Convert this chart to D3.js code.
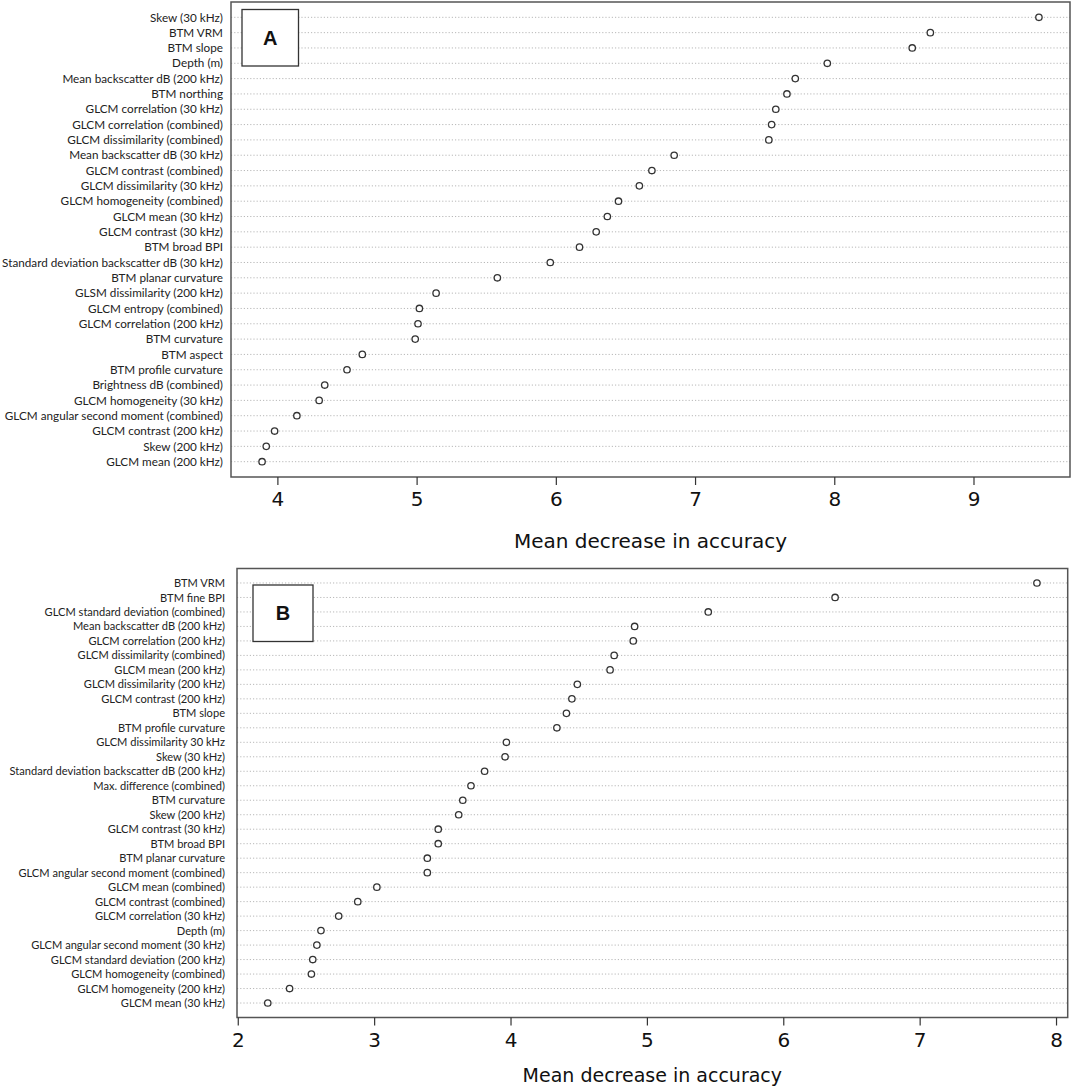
<!DOCTYPE html>
<html>
<head>
<meta charset="utf-8">
<script src="https://cdn.jsdelivr.net/npm/d3@7"></script>
<style>
  body { margin: 0; background: #fff; }
</style>
</head>
<body>
<div id="fig"></div>
<script>
// values (top row first)
const labelsA = ["Skew (30 kHz)", "BTM VRM", "BTM slope", "Depth (m)", "Mean backscatter dB (200 kHz)",
  "BTM northing", "GLCM correlation (30 kHz)", "GLCM correlation (combined)", "GLCM dissimilarity (combined)",
  "Mean backscatter dB (30 kHz)", "GLCM contrast (combined)", "GLCM dissimilarity (30 kHz)",
  "GLCM homogeneity (combined)", "GLCM mean (30 kHz)", "GLCM contrast (30 kHz)", "BTM broad BPI",
  "Standard deviation backscatter dB (30 kHz)", "BTM planar curvature", "GLSM dissimilarity (200 kHz)",
  "GLCM entropy (combined)", "GLCM correlation (200 kHz)", "BTM curvature", "BTM aspect",
  "BTM profile curvature", "Brightness dB (combined)", "GLCM homogeneity (30 kHz)",
  "GLCM angular second moment (combined)", "GLCM contrast (200 kHz)", "Skew (200 kHz)", "GLCM mean (200 kHz)"]
const valuesA = [9.47, 8.69, 8.56, 7.95, 7.72, 7.66, 7.58, 7.55, 7.53, 6.85, 6.69, 6.60, 6.45, 6.37, 6.29,
  6.17, 5.96, 5.58, 5.14, 5.02, 5.01, 4.99, 4.61, 4.50, 4.34, 4.30, 4.14, 3.98, 3.92, 3.89]
const ticksA = [4, 5, 6, 7, 8, 9]

const labelsB = ["BTM VRM", "BTM fine BPI", "GLCM standard deviation (combined)", "Mean backscatter dB (200 kHz)",
  "GLCM correlation (200 kHz)", "GLCM dissimilarity (combined)", "GLCM mean (200 kHz)",
  "GLCM dissimilarity (200 kHz)", "GLCM contrast (200 kHz)", "BTM slope", "BTM profile curvature",
  "GLCM dissimilarity 30 kHz", "Skew (30 kHz)", "Standard deviation backscatter dB (200 kHz)",
  "Max. difference (combined)", "BTM curvature", "Skew (200 kHz)", "GLCM contrast (30 kHz)", "BTM broad BPI",
  "BTM planar curvature", "GLCM angular second moment (combined)", "GLCM mean (combined)",
  "GLCM contrast (combined)", "GLCM correlation (30 kHz)", "Depth (m)", "GLCM angular second moment (30 kHz)",
  "GLCM standard deviation (200 kHz)", "GLCM homogeneity (combined)", "GLCM homogeneity (200 kHz)",
  "GLCM mean (30 kHz)"]
const valuesB = [7.86, 6.38, 5.45, 4.91, 4.90, 4.76, 4.73, 4.49, 4.45, 4.41, 4.34, 3.97, 3.96, 3.81, 3.71,
  3.65, 3.62, 3.47, 3.47, 3.39, 3.39, 3.02, 2.88, 2.74, 2.61, 2.58, 2.55, 2.54, 2.38, 2.22]
const ticksB = [2, 3, 4, 5, 6, 7, 8]

const xTitle = "Mean decrease in accuracy"

class DotPanel {

  constructor(svg, labels, values, ticks, opts) {
    this.svg = svg
    this.labels = labels
    this.values = values
    this.ticks = ticks
    this.opts = opts
    this.g = svg.append("g")
  }

  init() {
    this.setScales()
    this.drawGrid()
    this.drawLabels()
    this.drawAxis()
    this.drawDots()
    this.drawLetter()
  }

  setScales() {
    const o = this.opts
    // R dotchart pads the range by 4% on each side
    const lo = d3.min(this.values), hi = d3.max(this.values)
    const pad = (hi - lo) * 0.04
    this.x = d3.scaleLinear()
      .domain([lo - pad, hi + pad])
      .range([o.left, o.right])
    this.y = d3.scaleLinear()
      .domain([0, this.labels.length + 1])
      .range([o.top, o.bottom])
  }

  drawGrid() {
    const o = this.opts
    this.g.append("g")
      .selectAll("line")
      .data(this.labels)
      .join("line")
      .attr("x1", o.left)
      .attr("x2", o.right)
      .attr("y1", (d, i) => this.y(i + 1))
      .attr("y2", (d, i) => this.y(i + 1))
      .attr("stroke", "#b8b8b8")
      .attr("stroke-width", 1)
      .attr("stroke-dasharray", "1.2,2");

    this.g.append("rect")
      .attr("x", o.left)
      .attr("y", o.top)
      .attr("width", o.right - o.left)
      .attr("height", o.bottom - o.top)
      .attr("fill", "none")
      .attr("stroke", "#555")
      .attr("stroke-width", 1.5);
  }

  drawLabels() {
    const o = this.opts
    const lab = this.g.append("g")
      .selectAll("text")
      .data(this.labels)
      .join("text")
      .attr("text-anchor", "end")
      .attr("dy", "0.35em")
      .style("font-family", "Lato, 'Open Sans', sans-serif")
      .style("font-size", o.labelSize + "px")
      .style("fill", "#222")
      .text(d => d);

    // squeeze labels to the width of the narrow font in the original
    let widest = 0
    lab.each(function() { widest = Math.max(widest, this.getComputedTextLength()) })
    const sx = Math.min(1, o.labelWidth / widest)
    lab.attr("transform", (d, i) => `translate(${o.labelRight},${this.y(i + 1)}) scale(${sx},1)`)
  }

  drawAxis() {
    const o = this.opts
    const axis = this.g.append("g")
      .attr("transform", `translate(0,${o.bottom})`)
      .call(d3.axisBottom(this.x).tickValues(this.ticks).tickSize(8).tickPadding(7).tickFormat(d3.format("d")))
    axis.select(".domain").remove()
    axis.selectAll(".tick line").attr("stroke", "#333").attr("stroke-width", 1.2)
    axis.selectAll(".tick text")
      .style("font-family", "'DejaVu Sans', Verdana, sans-serif")
      .style("font-size", o.tickSize + "px")
      .style("fill", "#111")

    this.g.append("text")
      .attr("x", (o.left + o.right) / 2)
      .attr("y", o.titleY)
      .attr("text-anchor", "middle")
      .style("font-family", "'DejaVu Sans', Verdana, sans-serif")
      .style("font-size", o.titleSize + "px")
      .style("fill", "#111")
      .text(xTitle);
  }

  drawDots() {
    this.g.append("g")
      .selectAll("circle")
      .data(this.values)
      .join("circle")
      .attr("cx", d => this.x(d))
      .attr("cy", (d, i) => this.y(i + 1))
      .attr("r", 3.2)
      .attr("fill", "#fff")
      .attr("stroke", "#333")
      .attr("stroke-width", 1.3);
  }

  drawLetter() {
    const b = this.opts.letterBox
    this.g.append("rect")
      .attr("x", b[0]).attr("y", b[1])
      .attr("width", b[2]).attr("height", b[3])
      .attr("fill", "#fff")
      .attr("stroke", "#333")
      .attr("stroke-width", 1.3);
    this.g.append("text")
      .attr("x", b[0] + b[2] / 2)
      .attr("y", b[1] + b[3] / 2)
      .attr("dy", "0.36em")
      .attr("text-anchor", "middle")
      .style("font-family", "'Liberation Sans', Arial, sans-serif")
      .style("font-weight", "bold")
      .style("font-size", "20px")
      .style("fill", "#111")
      .text(this.opts.letter);
  }
}

const svg = d3.select("#fig")
  .append("svg")
  .attr("width", 1072)
  .attr("height", 1091)

new DotPanel(svg, labelsA, valuesA, ticksA, {
  left: 231, right: 1070, top: 2, bottom: 477,
  labelRight: 223, labelWidth: 221, labelSize: 12,
  tickSize: 20, titleSize: 20, titleY: 548,
  letter: "A", letterBox: [242, 9.5, 56.5, 56.5]
}).init()

new DotPanel(svg, labelsB, valuesB, ticksB, {
  left: 237, right: 1067.7, top: 568.5, bottom: 1017.5,
  labelRight: 225, labelWidth: 215.7, labelSize: 11.5,
  tickSize: 20, titleSize: 19, titleY: 1082,
  letter: "B", letterBox: [253, 585, 60, 56.5]
}).init()
</script>
</body>
</html>
